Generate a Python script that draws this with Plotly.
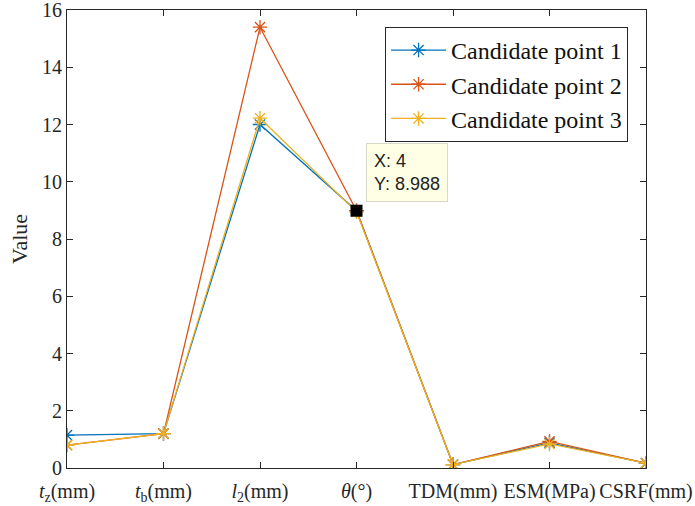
import plotly.graph_objects as go

x_pos = [1, 2, 3, 4, 5, 6, 7]
tick_labels = ["<i>t</i><sub>z</sub>(mm)", "<i>t</i><sub>b</sub>(mm)", "<i>l</i><sub>2</sub>(mm)",
               "<i>θ</i>(°)", "TDM(mm)", "ESM(MPa)", "CSRF(mm)"]
series_names = ["Candidate point 1", "Candidate point 2", "Candidate point 3"]
cand1 = [1.15, 1.2, 12.0, 8.99, 0.12, 0.88, 0.17]
cand2 = [0.8, 1.2, 15.4, 8.988, 0.12, 0.93, 0.17]
cand3 = [0.8, 1.2, 12.22, 8.95, 0.12, 0.84, 0.17]
colors = ["#0072BD", "#D95319", "#EDB120"]
tip_x = 4
tip_y = 8.988

FONT = "Liberation Serif, Times New Roman, serif"
AX = "#262626"

fig = go.Figure()
for name, vals, c in zip(series_names, [cand1, cand2, cand3], colors):
    fig.add_trace(go.Scatter(
        x=x_pos, y=vals, name=name, mode="lines+markers",
        line=dict(color=c, width=1.3),
        marker=dict(symbol="asterisk-open", size=12, color=c, line=dict(color=c, width=1.3)),
    ))

fig.add_trace(go.Scatter(
    x=[tip_x], y=[tip_y], mode="markers", showlegend=False,
    marker=dict(symbol="square", size=12, color="black"),
))

fig.add_annotation(
    x=tip_x, y=tip_y, xref="x", yref="y",
    text=f"X: {tip_x}<br>Y: {tip_y}",
    showarrow=False, xanchor="left", yanchor="bottom", align="left",
    xshift=9, yshift=9,
    bgcolor="#FFFFE6", bordercolor="#D8D8C8", borderwidth=1, borderpad=7,
    font=dict(family="Liberation Sans, Arial, sans-serif", size=18, color="#222222"),
)

fig.update_layout(
    width=695, height=506,
    margin=dict(l=67, r=49, t=10, b=38, autoexpand=False),
    plot_bgcolor="white", paper_bgcolor="white",
    font=dict(family=FONT, size=20, color=AX),
    legend=dict(
        x=0.969, y=0.963, xanchor="right", yanchor="top",
        bgcolor="white", bordercolor=AX, borderwidth=1,
        font=dict(family=FONT, size=24, color="#111111"),
        tracegroupgap=0, itemwidth=55,
    ),
    xaxis=dict(
        range=[1, 7], tickvals=x_pos, ticktext=tick_labels, automargin=False,
        showgrid=False, zeroline=False, showline=True, linecolor=AX, linewidth=1,
        mirror="ticks", ticks="inside", ticklen=6, tickcolor=AX,
        tickfont=dict(family=FONT, size=20, color=AX),
        ticklabelstandoff=5, ticklabeloverflow="allow",
    ),
    yaxis=dict(
        range=[0, 16], tickvals=[0, 2, 4, 6, 8, 10, 12, 14, 16], automargin=False,
        showgrid=False, zeroline=False, showline=True, linecolor=AX, linewidth=1,
        mirror="ticks", ticks="inside", ticklen=6, tickcolor=AX,
        tickfont=dict(family=FONT, size=20, color=AX),
        ticklabeloverflow="allow",
        title=dict(text="Value", font=dict(family=FONT, size=22, color=AX), standoff=8),
    ),
)

fig.write_html("out.html")
